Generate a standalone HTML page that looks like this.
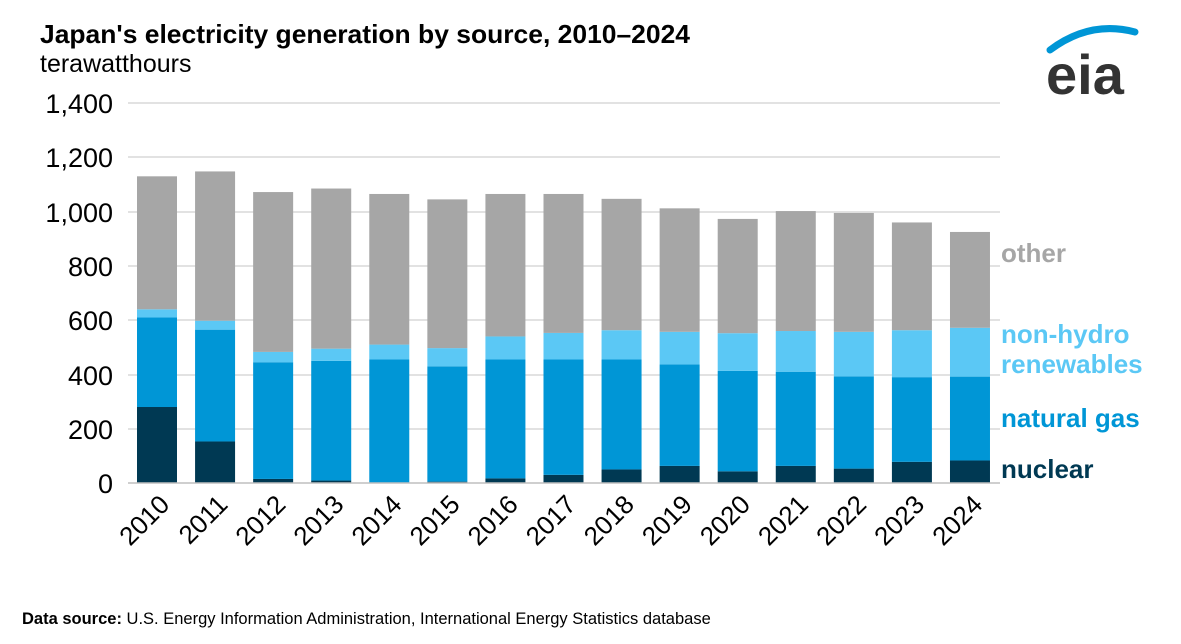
<!DOCTYPE html>
<html><head><meta charset="utf-8"><style>
body{margin:0;background:#fff;}
svg text{font-family:"Liberation Sans",Arial,sans-serif;}
</style></head><body>
<svg width="1181" height="639" viewBox="0 0 1181 639" xmlns="http://www.w3.org/2000/svg">
<rect width="1181" height="639" fill="#fff"/>
<text x="40" y="43" font-size="26" font-weight="bold" fill="#000" textLength="650" lengthAdjust="spacingAndGlyphs">Japan's electricity generation by source, 2010–2024</text>
<text x="40" y="72" font-size="25" fill="#000">terawatthours</text>
<!-- logo -->
<path d="M1050 50 Q1090 20 1135 32" stroke="#0096d6" stroke-width="7" fill="none" stroke-linecap="round"/>
<text x="1046" y="94" font-size="56" font-weight="bold" fill="#333">eia</text>
<g stroke="#d9d9d9" stroke-width="1.5">
<line x1="128" x2="1000" y1="103" y2="103"/><line x1="128" x2="1000" y1="157" y2="157"/>
<line x1="128" x2="1000" y1="212" y2="212"/><line x1="128" x2="1000" y1="266" y2="266"/>
<line x1="128" x2="1000" y1="320" y2="320"/><line x1="128" x2="1000" y1="375" y2="375"/>
<line x1="128" x2="1000" y1="429" y2="429"/>
</g>
<g font-size="27" fill="#000" text-anchor="end">
<text x="113" y="113">1,400</text><text x="113" y="167">1,200</text><text x="113" y="222">1,000</text>
<text x="113" y="276">800</text><text x="113" y="330">600</text><text x="113" y="385">400</text>
<text x="113" y="439">200</text><text x="113" y="493">0</text>
</g>
<g id="bars"></g>
<line x1="128" x2="1000" y1="483" y2="483" stroke="#bfbfbf" stroke-width="1.5"/>
<g id="xl" font-size="26" fill="#000"></g>
<g font-size="26" font-weight="bold">
<text x="1001" y="262" fill="#a6a6a6">other</text>
<text x="1001" y="343" fill="#5bc8f5">non-hydro</text>
<text x="1001" y="373" fill="#5bc8f5">renewables</text>
<text x="1001" y="427" fill="#0096d6">natural gas</text>
<text x="1001" y="478" fill="#003953">nuclear</text>
</g>
<text x="22" y="624" font-size="16.5" fill="#000"><tspan font-weight="bold">Data source:</tspan> U.S. Energy Information Administration, International Energy Statistics database</text>
</svg>
<script>
var d=[[280,610,640,1130],[153,565,598,1148],[15,445,483,1072],[9,450,495,1085],[0,455,510,1065],[5,430,497,1045],[17,455,540,1065],[30,455,553,1065],[50,455,563,1047],[63,437,557,1012],[43,413,552,973],[63,410,560,1002],[53,393,557,995],[78,390,563,960],[83,392,572,925]];
var cols=["#003953","#0096d6","#5bc8f5","#a6a6a6"];
var ns="http://www.w3.org/2000/svg",g=document.getElementById("bars"),xl=document.getElementById("xl");
function Y(v){return 483-v*0.2714;}
d.forEach(function(r,i){var cx=157+i*58.07,prev=0;
 r.forEach(function(v,k){var e=document.createElementNS(ns,"rect");e.setAttribute("x",cx-20);e.setAttribute("width",40);
 e.setAttribute("y",Y(v));e.setAttribute("height",Math.max(0,Y(prev)-Y(v)));e.setAttribute("fill",cols[k]);g.appendChild(e);prev=v;});
 var t=document.createElementNS(ns,"text");t.setAttribute("text-anchor","end");
 t.setAttribute("transform","translate("+(cx+14)+",506) rotate(-45)");t.textContent=2010+i;xl.appendChild(t);});
</script>
</body></html>
